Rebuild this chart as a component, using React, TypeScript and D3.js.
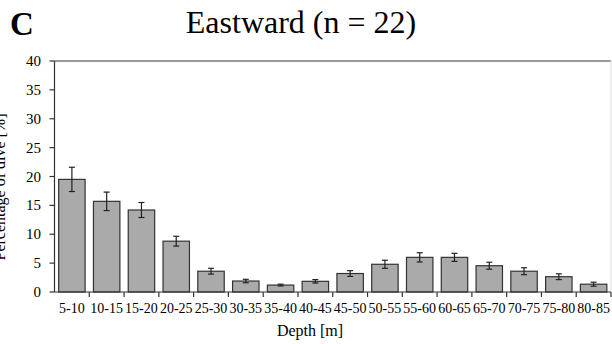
import React from "react";
import * as d3 from "d3";

const categories = ["5-10","10-15","15-20","20-25","25-30","30-35","35-40","40-45","45-50","50-55","55-60","60-65","65-70","70-75","75-80","80-85"];
const values = [19.5,15.7,14.2,8.8,3.6,1.9,1.2,1.85,3.2,4.8,6.0,6.0,4.55,3.6,2.65,1.35];
const errors = [2.1,1.6,1.3,0.85,0.5,0.3,0.15,0.3,0.5,0.7,0.8,0.7,0.6,0.6,0.5,0.35];
const yTicks = [0,5,10,15,20,25,30,35,40];

const W = 612, H = 344;
const left = 54.5, right = 611, top = 61, bottom = 292;
const font = "'Liberation Serif', 'Times New Roman', serif";

export default function App() {
  const x = d3.scaleBand<string>().domain(categories).range([left, right]).paddingInner(0.24).paddingOuter(0.12);
  const xb = d3.scaleBand<string>().domain(categories).range([left, right]);
  const y = d3.scaleLinear().domain([0, 40]).range([bottom, top]);
  const cap = 3;
  return (
    <svg width={W} height={H} style={{ position: "absolute", left: 0, top: 0 }} fontFamily={font}>
      <rect width={W} height={H} fill="#fff" />
      <text x={10} y={35} fontSize={33} fontWeight="bold">C</text>
      <text x={301} y={33} fontSize={32} textAnchor="middle">Eastward (n = 22)</text>
      <line x1={left} x2={right} y1={top} y2={top} stroke="#777" strokeWidth={1.5} />
      <line x1={right} x2={right} y1={top} y2={bottom} stroke="#ddd" strokeWidth={1} />
      {values.map((v, i) => {
        const c = categories[i];
        const bx = x(c)!;
        const cx = bx + x.bandwidth() / 2;
        return (
          <g key={c}>
            <rect x={bx} y={y(v)} width={x.bandwidth()} height={y(0) - y(v)} fill="#aaaaaa" stroke="#333" strokeWidth={1.2} />
            <line x1={cx} x2={cx} y1={y(v + errors[i])} y2={y(v - errors[i])} stroke="#222" strokeWidth={1.2} />
            <line x1={cx - cap} x2={cx + cap} y1={y(v + errors[i])} y2={y(v + errors[i])} stroke="#222" strokeWidth={1.2} />
            <line x1={cx - cap} x2={cx + cap} y1={y(v - errors[i])} y2={y(v - errors[i])} stroke="#222" strokeWidth={1.2} />
          </g>
        );
      })}
      <line x1={left} x2={left} y1={top} y2={bottom} stroke="#333" strokeWidth={1.2} />
      <line x1={left} x2={right} y1={bottom} y2={bottom} stroke="#333" strokeWidth={1.2} />
      {yTicks.map((t) => (
        <g key={t}>
          <line x1={left - 5} x2={left} y1={y(t)} y2={y(t)} stroke="#333" strokeWidth={1.2} />
          <text x={41} y={y(t) + 5} fontSize={15} textAnchor="end">{t}</text>
        </g>
      ))}
      {categories.map((c, i) => (
        <g key={c}>
          {i > 0 && <line x1={xb(c)!} x2={xb(c)!} y1={bottom} y2={bottom + 5} stroke="#333" strokeWidth={1.2} />}
          <text x={xb(c)! + xb.bandwidth() / 2} y={313} fontSize={14} textAnchor="middle">{c}</text>
        </g>
      ))}
      <line x1={right} x2={right} y1={bottom} y2={bottom + 5} stroke="#333" strokeWidth={1.2} />
      <text x={310} y={336} fontSize={16} textAnchor="middle">Depth [m]</text>
      <text transform={`translate(4.5, 187) rotate(-90)`} fontSize={16} textAnchor="middle">Percentage of dive [%]</text>
    </svg>
  );
}
